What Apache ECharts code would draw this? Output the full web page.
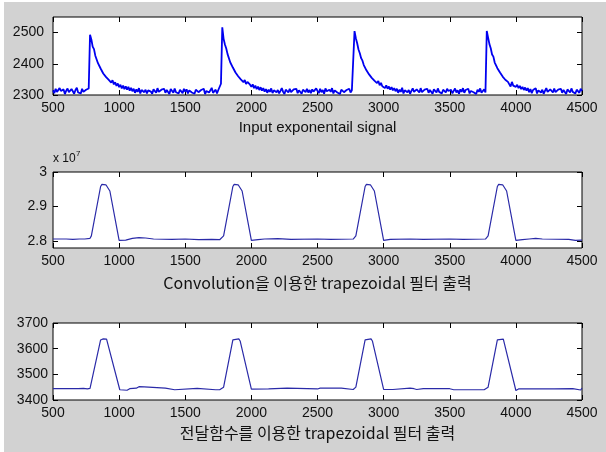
<!DOCTYPE html>
<html>
<head>
<meta charset="utf-8">
<script src="https://cdn.jsdelivr.net/npm/echarts@6/dist/echarts.min.js"></script>
<style>
html,body{margin:0;padding:0;background:#fff;width:606px;height:452px;overflow:hidden}
#c{position:absolute;left:4px;top:2px;width:602px;height:450px;background:#d2d2d2}
</style>
</head>
<body>
<div id="c"></div>
<script>
// ---------- data ----------
// Input exponential signal, sampled every 10 units, one array per period
var sigStart = [500, 1500, 2500, 3500];
var sigStep = 10;
var sig1 = [2315,2306,2320,2310,2304,2322,2313,2307,2318,2303,2314,2321,2309,2305,2319,2312,2304,2316,2323,2308,2314,2305,2320,2310,2306,2317,2311,2321,
2493,2478,2455,2447,2426,2422,2402,2404,2385,2387,2369,2374,2358,2363,2349,2355,2340,2347,2334,2341,2329,2337,2325,2333,2321,2330,2319,2328,2317,2326,2314,
2323,2312,2320,2307,2318,2310,2322,2305,2316,2319,2309,2317,2305,2315,2321,2311,2304,2318,2313,2307,2322,2310,2305,2317,2312,2320,2307,2316,2310,2303,2319,2313,2307,2321,2309,2315,2305,2317,2311,2306,2320];
var sig2 = [2311,2318,2305,2315,2321,2308,2313,2304,2317,2322,2309,2306,2316,2312,2320,2303,2313,2318,2308,2315,2323,2307,2312,2317,2305,2316,2310,
2336,2517,
2480,2462,2449,2431,2425,2405,2408,2388,2391,2372,2377,2360,2365,2350,2356,2341,2348,2335,2342,2346,2333,2326,2334,2322,2330,2319,2327,2316,2325,2314,
2322,2311,2319,2307,2317,2310,2321,2306,2315,2318,2309,2316,2305,2313,2322,2310,2303,2317,2312,2308,2320,2309,2304,2318,2313,2320,2306,2315,2310,2304,2317,2312,2309,2320,2308,2316,2306,2318,2311,2308,2321];
var sig3 = [2313,2306,2320,2309,2316,2304,2321,2312,2307,2317,2310,2322,2305,2315,2318,2308,2313,2303,2317,2321,2309,2306,2316,2312,2320,2308,2315,2310,
2505,
2482,2466,2446,2434,2418,2410,2396,2398,2379,2383,2366,2370,2355,2360,2346,2351,2338,2345,2331,2339,2328,2334,2322,2331,2320,2327,2317,2325,2315,2322,
2312,2320,2307,2317,2310,2323,2305,2315,2319,2309,2316,2304,2313,2321,2310,2306,2318,2312,2308,2322,2309,2305,2317,2313,2320,2307,2316,2310,2304,2318,2312,2308,2321,2310,2315,2305,2317,2312,2308,2320,2313];
var sig4 = [2310,2317,2305,2313,2321,2308,2315,2304,2318,2310,2322,2307,2316,2312,2320,2305,2313,2318,2309,2315,2303,2317,2310,2321,2307,2313,2318,2308,
2505,
2484,2463,2450,2430,2423,2404,2407,2386,2390,2372,2375,2359,2364,2349,2354,2342,2347,2327,2342,2330,2335,2326,2333,2322,2329,2319,2326,2316,2324,2314,
2322,2309,2319,2306,2316,2311,2322,2305,2315,2319,2308,2317,2304,2313,2322,2310,2306,2318,2313,2308,2321,2309,2305,2317,2312,2320,2307,2316,2310,2303,2318,2313,2308,2321,2310,2315,2305,2317,2312,2307,2320,2313];

// Convolution trapezoidal filter output, values in units of 10^7
var convX = [500,600,650,700,740,780,790,860,870,900,915,930,1000,1010,1050,1100,1150,1200,1260,1400,1500,1600,1700,1760,1775,1790,1860,1870,1900,1915,1930,2000,2010,2050,2100,2200,2300,2500,2600,2770,2790,2860,2870,2900,2915,2930,3000,3010,3050,3200,3300,3500,3600,3770,3790,3860,3870,3900,3915,3930,4000,4010,4050,4100,4150,4200,4400,4450,4500];
var convY = [2.806,2.806,2.805,2.806,2.806,2.808,2.815,2.958,2.964,2.963,2.958,2.945,2.802,2.798,2.803,2.808,2.810,2.809,2.806,2.805,2.806,2.804,2.805,2.804,2.806,2.815,2.958,2.964,2.963,2.958,2.945,2.802,2.798,2.804,2.806,2.807,2.805,2.806,2.805,2.806,2.815,2.958,2.964,2.963,2.958,2.945,2.802,2.800,2.805,2.806,2.805,2.806,2.805,2.806,2.815,2.958,2.964,2.963,2.958,2.945,2.802,2.799,2.804,2.806,2.808,2.806,2.805,2.802,2.803];

// Transfer-function trapezoidal filter output
var tfX = [500,670,680,690,730,740,760,780,790,860,870,880,905,915,1005,1010,1060,1080,1130,1150,1190,1200,1350,1360,1420,1430,1590,1600,1730,1740,1760,1775,1790,1860,1870,1905,1915,2000,2010,2130,2140,2270,2280,2500,2520,2680,2690,2770,2790,2860,2870,2905,2915,3000,3010,3070,3080,3200,3210,3230,3250,3300,3500,3530,3760,3775,3790,3860,3870,3905,3915,4000,4010,4020,4290,4300,4430,4440,4490,4500];
var tfY = [3444,3444,3439,3444,3445,3441,3443,3445,3450,3634,3641,3638,3637,3630,3440,3437,3438,3444,3446,3452,3451,3447,3446,3440,3440,3445,3445,3440,3440,3444,3440,3441,3450,3634,3638,3638,3630,3442,3441,3443,3446,3446,3443,3443,3446,3446,3441,3441,3450,3634,3638,3638,3630,3441,3440,3441,3446,3446,3441,3444,3441,3444,3444,3440,3440,3442,3450,3634,3638,3637,3630,3437,3437,3443,3443,3444,3444,3439,3439,3446];

var xTicks = [500,1000,1500,2000,2500,3000,3500,4000,4500];
var y1Ticks = [2300,2400,2500];
var y2Ticks = [2.8,2.9,3];
var y3Ticks = [3400,3500,3600,3700];

var title1 = 'Input exponentail signal';
var title2 = 'Convolution을 이용한 trapezoidal 필터 출력';
var title3 = '전달함수를 이용한 trapezoidal 필터 출력';

// ---------- build ----------
var sigData = [];
[sig1, sig2, sig3, sig4].forEach(function (arr, k) {
  arr.forEach(function (v, i) { sigData.push([sigStart[k] + i * sigStep, v]); });
});
function pairs(xs, ys) { return xs.map(function (x, i) { return [x, ys[i]]; }); }
function plain(v) { return String(v); }

var FONT = '"Liberation Sans", "Noto Sans CJK KR", sans-serif';
var KFONT = '"Noto Sans CJK KR", "Liberation Sans", sans-serif';
var grids = [
  {left: 49, top: 15, width: 529, height: 78},
  {left: 49, top: 170, width: 529, height: 76},
  {left: 49, top: 321, width: 529, height: 77}
];
grids.forEach(function (g) {
  g.show = true; g.backgroundColor = '#fff'; g.borderColor = '#000'; g.borderWidth = 1;
});

var names = [title1, title2, title3];
var nameGaps = [25, 27, 25];
var nameSizes = [15, 16, 16];
var nameFonts = [FONT, KFONT, KFONT];
var xAxes = [], yAxes = [];
var yCfg = [
  {min: 2300, max: 2550, ticks: y1Ticks, margin: 9},
  {min: 2.78, max: 3.0, ticks: y2Ticks, margin: 6},
  {min: 3400, max: 3700, ticks: y3Ticks, margin: 5}
];
for (var g = 0; g < 3; g++) {
  ['bottom', 'top'].forEach(function (pos) {
    xAxes.push({
      gridIndex: g, type: 'value', position: pos, min: 500, max: 4500, interval: 500,
      axisLine: {show: false},
      axisTick: {show: true, inside: true, length: 5, lineStyle: {color: '#000'}},
      axisLabel: {show: pos === 'bottom', fontSize: 14, color: '#111', margin: 6, fontFamily: FONT, formatter: plain},
      splitLine: {show: false},
      name: pos === 'bottom' ? names[g] : '',
      nameLocation: 'middle', nameGap: nameGaps[g],
      nameTextStyle: {fontSize: nameSizes[g], color: '#111', fontFamily: nameFonts[g]}
    });
  });
  ['left', 'right'].forEach(function (pos) {
    var c = yCfg[g];
    yAxes.push({
      gridIndex: g, type: 'value', position: pos, min: c.min, max: c.max,
      axisLine: {show: false},
      axisTick: {show: true, inside: true, length: 5, lineStyle: {color: '#000'}, customValues: c.ticks},
      axisLabel: {show: pos === 'left', fontSize: 14, color: '#111', margin: c.margin, fontFamily: FONT, customValues: c.ticks, formatter: plain},
      splitLine: {show: false}
    });
  });
}

var option = {
  animation: false,
  backgroundColor: '#d2d2d2',
  grid: grids,
  xAxis: xAxes,
  yAxis: yAxes,
  graphic: [
    {type: 'text', left: 49, top: 151, style: {text: 'x 10', fontSize: 12, fill: '#111', fontFamily: FONT}},
    {type: 'text', left: 72, top: 148, style: {text: '7', fontSize: 8, fill: '#111', fontFamily: FONT}}
  ],
  series: [
    {type: 'line', xAxisIndex: 0, yAxisIndex: 0, data: sigData, showSymbol: false, sampling: false,
     lineStyle: {color: '#0000f0', width: 1.8}},
    {type: 'line', xAxisIndex: 2, yAxisIndex: 2, data: pairs(convX, convY), showSymbol: false,
     lineStyle: {color: '#2a2aa8', width: 1.2}},
    {type: 'line', xAxisIndex: 4, yAxisIndex: 4, data: pairs(tfX, tfY), showSymbol: false,
     lineStyle: {color: '#2a2aa8', width: 1.2}}
  ]
};
var chart = echarts.init(document.getElementById('c'));
chart.setOption(option);
</script>
</body>
</html>
